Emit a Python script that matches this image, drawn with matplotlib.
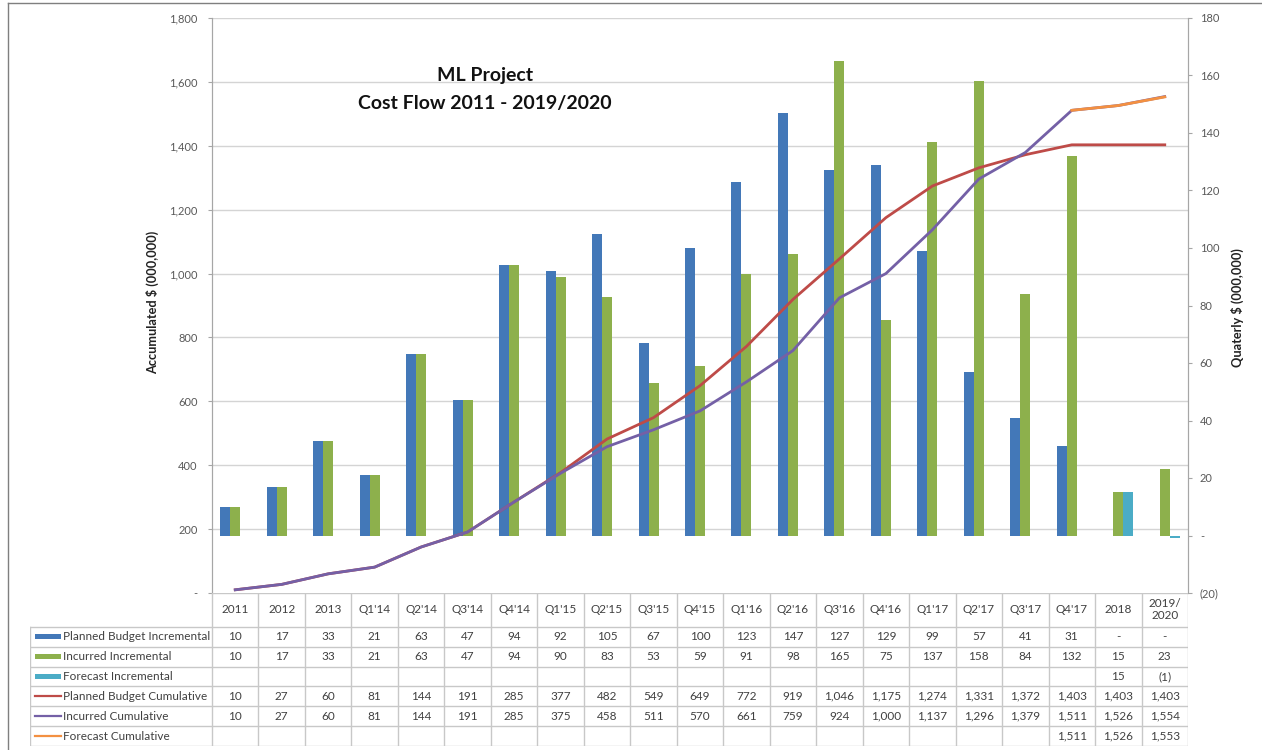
import numpy as np
import matplotlib.pyplot as plt
from matplotlib.patches import Rectangle
from matplotlib.lines import Line2D

plt.rcParams['font.family'] = ['Lato', 'DejaVu Sans']

periods = ["2011", "2012", "2013", "Q1'14", "Q2'14", "Q3'14", "Q4'14", "Q1'15", "Q2'15",
           "Q3'15", "Q4'15", "Q1'16", "Q2'16", "Q3'16", "Q4'16", "Q1'17", "Q2'17", "Q3'17",
           "Q4'17", "2018", "2019/\n2020"]
planned_inc = [10, 17, 33, 21, 63, 47, 94, 92, 105, 67, 100, 123, 147, 127, 129, 99, 57, 41, 31, 0, 0]
incurred_inc = [10, 17, 33, 21, 63, 47, 94, 90, 83, 53, 59, 91, 98, 165, 75, 137, 158, 84, 132, 15, 23]
forecast_inc = [None] * 19 + [15, -1]
planned_cum = [10, 27, 60, 81, 144, 191, 285, 377, 482, 549, 649, 772, 919, 1046, 1175, 1274,
               1331, 1372, 1403, 1403, 1403]
incurred_cum = [10, 27, 60, 81, 144, 191, 285, 375, 458, 511, 570, 661, 759, 924, 1000, 1137,
                1296, 1379, 1511, 1526, 1554]
forecast_cum = [None] * 18 + [1511, 1526, 1553]

row_names = ["Planned Budget Incremental", "Incurred Incremental", "Forecast Incremental",
             "Planned Budget Cumulative", "Incurred Cumulative", "Forecast Cumulative"]

C_BLUE = "#4378B8"
C_GREEN = "#8DB04C"
C_TEAL = "#4BACC6"
C_RED = "#BE4B48"
C_PURPLE = "#7460A6"
C_ORANGE = "#F39041"
GRID = "#D4D4D4"
TXT = "#404040"

W, H = 1262, 750
fig = plt.figure(figsize=(W / 100, H / 100), dpi=100)


def px(x0, y0, x1, y1):
    # pixel box (top-left origin) -> figure rect
    return [x0 / W, 1 - y1 / H, (x1 - x0) / W, (y1 - y0) / H]


ax_bar = fig.add_axes(px(212, 18, 1188, 593))
ax_line = ax_bar.twinx()

n = len(periods)
x = np.arange(n)
w = 0.215

# bars on the quarterly (right) scale
ax_bar.bar(x - w, planned_inc, w, color=C_BLUE, zorder=2)
ax_bar.bar(x, incurred_inc, w, color=C_GREEN, zorder=2)
fx = [i for i, v in enumerate(forecast_inc) if v is not None]
ax_bar.bar(np.array(fx) + w, [forecast_inc[i] for i in fx], w, color=C_TEAL, zorder=2)

ax_bar.set_xlim(-0.5, n - 0.5)
ax_bar.set_ylim(-20, 180)
rticks = list(range(-20, 181, 20))
ax_bar.set_yticks(rticks)
ax_bar.set_yticklabels(["(%d)" % -v if v < 0 else ("-" if v == 0 else str(v)) for v in rticks])
ax_bar.set_xticks([])

# cumulative lines on the accumulated (left) scale
ax_line.plot(x, planned_cum, color=C_RED, lw=2)
ax_line.plot(x, incurred_cum, color=C_PURPLE, lw=2)
fcx = [i for i, v in enumerate(forecast_cum) if v is not None]
ax_line.plot(fcx, [forecast_cum[i] for i in fcx], color=C_ORANGE, lw=2)
ax_line.set_ylim(0, 1800)
lticks = list(range(0, 1801, 200))
ax_line.set_yticks(lticks)
ax_line.set_yticklabels(["-" if v == 0 else f"{v:,}" for v in lticks])

# horizontal gridlines follow the left scale, drawn behind the bars
for v in lticks[1:]:
    ax_bar.axhline(-20 + v * 200 / 1800, color=GRID, lw=1, zorder=0)

# swap sides: left = accumulated, right = quarterly
ax_line.yaxis.tick_left()
ax_bar.yaxis.tick_right()
for a in (ax_bar, ax_line):
    for s in ("top", "bottom"):
        a.spines[s].set_visible(False)
    for s in ("left", "right"):
        a.spines[s].set_color("#A6A6A6")
    a.tick_params(axis="y", length=3, color="#A6A6A6", labelsize=8, labelcolor="#595959")
ax_line.tick_params(axis="y", pad=7.5)
ax_bar.tick_params(axis="y", pad=5.5)

fig.text(153 / W, 1 - 302 / H, "Accumulated $ (000,000)", rotation=90, ha="center", va="center",
         fontsize=9.2, fontweight="bold", color="#222222")
fig.text(1237 / W, 1 - 308 / H, "Quaterly $ (000,000)", rotation=90, ha="center", va="center",
         fontsize=9.2, fontweight="bold", color="#222222")

fig.text(485 / W, 1 - 75 / H, "ML Project", ha="center", va="center", fontsize=14,
         fontweight="bold", color="#111111")
fig.text(485 / W, 1 - 103 / H, "Cost Flow 2011 - 2019/2020", ha="center", va="center",
         fontsize=14, fontweight="bold", color="#111111")

# data table under the chart
cat_px = (1188 - 212) / n
xl = -0.5 - (212 - 30) / cat_px
hdr = 1.7
ax_t = fig.add_axes(px(30, 593, 1188, 746))
ax_t.set_xlim(xl, n - 0.5)
ax_t.set_ylim(hdr + 6, 0)
ax_t.axis("off")

LC = "#C8C8C8"
ax_t.plot([-0.5, n - 0.5], [0, 0], color=LC, lw=1)
for r in range(7):
    ax_t.plot([xl, n - 0.5], [hdr + r, hdr + r], color=LC, lw=1)
ax_t.plot([xl, xl], [hdr, hdr + 6], color=LC, lw=1)
for b in np.arange(n + 1) - 0.5:
    ax_t.plot([b, b], [0, hdr + 6], color=LC, lw=1)

for i, p in enumerate(periods):
    ax_t.text(i, hdr / 2, p, ha="center", va="center", fontsize=8.5, color=TXT, linespacing=1.1)


def fmt(v):
    if v is None:
        return ""
    if v == 0:
        return "-"
    if v < 0:
        return "(%d)" % -v
    return f"{v:,}"


rows = [planned_inc, incurred_inc, forecast_inc, planned_cum, incurred_cum, forecast_cum]
colors = [C_BLUE, C_GREEN, C_TEAL, C_RED, C_PURPLE, C_ORANGE]
for r, (vals, name, c) in enumerate(zip(rows, row_names, colors)):
    yc = hdr + r + 0.5
    for i, v in enumerate(vals):
        ax_t.text(i, yc, fmt(v), ha="center", va="center", fontsize=8.5, color=TXT)
    k0, k1 = xl + 5 / cat_px, xl + 31 / cat_px
    if r < 3:
        ax_t.add_patch(Rectangle((k0, yc - 0.14), k1 - k0, 0.28, color=c, lw=0))
    else:
        ax_t.add_line(Line2D([k0, k1], [yc, yc], color=c, lw=1.6))
    ax_t.text(xl + 33 / cat_px, yc, name, ha="left", va="center", fontsize=8.5, color=TXT)

# outer frame of the chart area
fig.add_artist(Line2D([8 / W, 1], [1 - 3 / H, 1 - 3 / H], color="#7F7F7F", lw=1))
fig.add_artist(Line2D([8 / W, 8 / W], [0, 1 - 3 / H], color="#7F7F7F", lw=1))

fig.savefig("out.png", dpi=100)
